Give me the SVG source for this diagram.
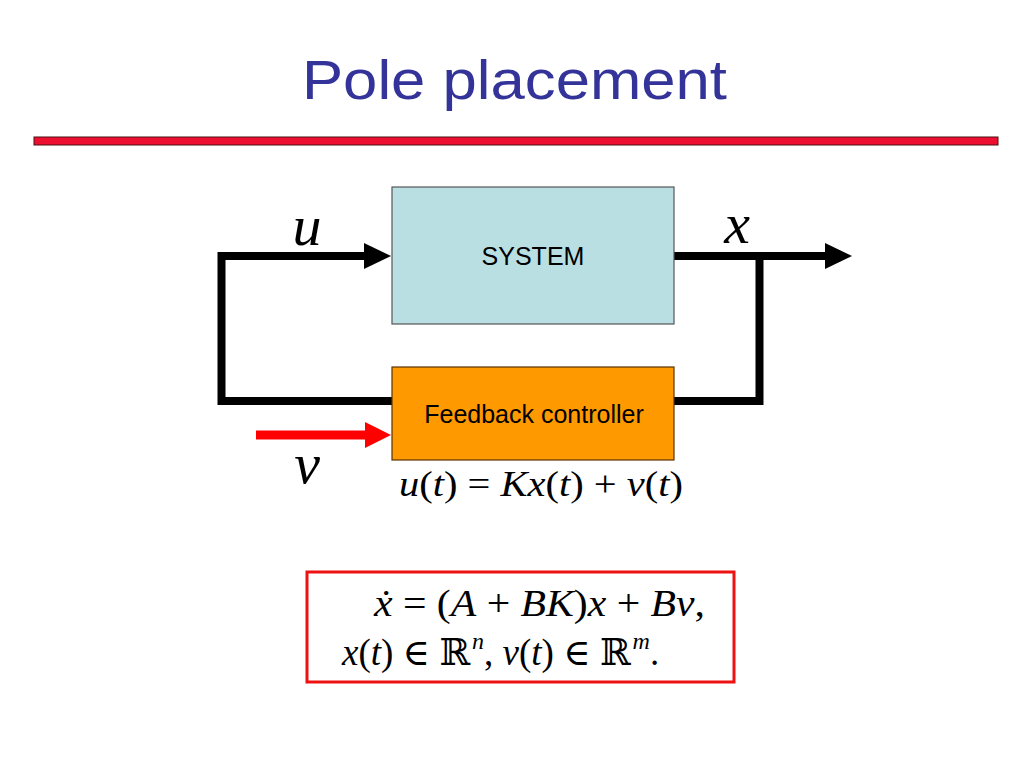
<svg xmlns="http://www.w3.org/2000/svg" width="1024" height="768" viewBox="0 0 1024 768">
<defs>
<style>
.title{font-family:"Liberation Sans",Arial,sans-serif;font-size:56px;fill:#333399}
.lbl{font-family:"Liberation Sans",Arial,sans-serif;font-size:25px;fill:#000}
.math{font-family:"Liberation Serif","DejaVu Serif",serif;fill:#000}
.it{font-style:italic}
.wire{fill:none;stroke:#000;stroke-width:8;stroke-linejoin:miter;stroke-linecap:butt}
</style>
<marker id="ahb" markerUnits="userSpaceOnUse" markerWidth="27" markerHeight="26" refX="1" refY="13" orient="auto" overflow="visible">
<path d="M0,0 L27,13 L0,26 z" fill="#000"/>
</marker>
<marker id="ahr" markerUnits="userSpaceOnUse" markerWidth="27" markerHeight="26" refX="1" refY="13" orient="auto" overflow="visible">
<path d="M0,0 L26,13 L0,26 z" fill="#ff0000"/>
</marker>
</defs>
<rect width="1024" height="768" fill="#ffffff"/>
<text class="title" x="302" y="99" textLength="425" lengthAdjust="spacingAndGlyphs">Pole placement</text>
<rect x="34" y="137" width="964" height="8" fill="#ee0f30" stroke="#4a1010" stroke-width="1"/>

<g id="connectors">
<path class="wire" d="M392 401 H221.5 V256 H365" marker-end="url(#ahb)"/>
<path class="wire" d="M674 401 H759.5 V256"/>
<path class="wire" d="M674 256 H826" marker-end="url(#ahb)"/>
<path d="M256 435 H366" fill="none" stroke="#ff0000" stroke-width="9" marker-end="url(#ahr)"/>
</g>

<g id="system">
<rect x="392" y="187" width="282" height="137" fill="#b9dfe3" stroke="#555555" stroke-width="1.2"/>
<text class="lbl" x="533" y="265" text-anchor="middle">SYSTEM</text>
</g>

<g id="controller">
<rect x="392" y="367" width="282" height="93" fill="#ff9900" stroke="#5a3300" stroke-width="1.2"/>
<text class="lbl" x="534" y="423" text-anchor="middle">Feedback controller</text>
</g>

<g id="labels">
<text class="math it" x="307" y="245" font-size="58" text-anchor="middle">u</text>
<text class="math it" x="737" y="243" font-size="58" text-anchor="middle">x</text>
<text class="math it" x="307" y="483" font-size="58" text-anchor="middle">v</text>
<text class="math" x="399" y="496" font-size="35" textLength="284" lengthAdjust="spacingAndGlyphs"><tspan class="it">u</tspan>(<tspan class="it">t</tspan>) = <tspan class="it">Kx</tspan>(<tspan class="it">t</tspan>) + <tspan class="it">v</tspan>(<tspan class="it">t</tspan>)</text>
</g>

<g id="equations">
<rect x="307" y="572" width="427" height="110" fill="none" stroke="#ee1111" stroke-width="3"/>
<text class="math" x="374" y="616" font-size="37" textLength="331" lengthAdjust="spacingAndGlyphs"><tspan class="it">ẋ</tspan> = (<tspan class="it">A</tspan> + <tspan class="it">BK</tspan>)<tspan class="it">x</tspan> + <tspan class="it">Bv</tspan>,</text>
<text class="math" x="342" y="665" font-size="37"><tspan class="it">x</tspan>(<tspan class="it">t</tspan>) ∈ ℝ<tspan class="it" font-size="24" dx="2" dy="-16">n</tspan><tspan dy="16">, </tspan><tspan class="it">v</tspan>(<tspan class="it">t</tspan>) ∈ ℝ<tspan class="it" font-size="24" dx="2" dy="-16">m</tspan><tspan dy="16">.</tspan></text>
</g>
</svg>
